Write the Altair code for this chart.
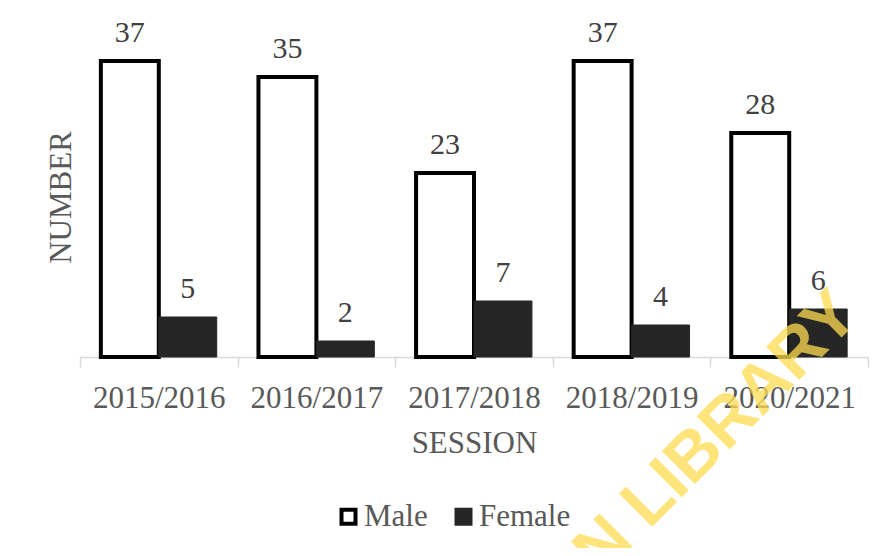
import altair as alt
import pandas as pd

sessions = ["2015/2016", "2016/2017", "2017/2018", "2018/2019", "2020/2021"]
male = [37, 35, 23, 37, 28]
female = [5, 2, 7, 4, 6]
genders = ["Male", "Female"]
watermark = ["UNIVERSITY OF IBADAN LIBRARY"]

rows = []
for s, m, f in zip(sessions, male, female):
    rows.append({"session": s, "gender": "Male", "value": m})
    rows.append({"session": s, "gender": "Female", "value": f})
df = pd.DataFrame(rows)

FONT = "Liberation Serif"
GRAY = "#595959"

x_enc = alt.X(
    "session:N",
    sort=sessions,
    scale=alt.Scale(paddingInner=0, paddingOuter=0),
    axis=alt.Axis(
        title="SESSION",
        labelAngle=0,
        tickBand="extent",
        domainColor="#d9d9d9",
        domainWidth=1.5,
        tickColor="#d9d9d9",
        tickWidth=1.5,
        tickSize=10,
        labelFont=FONT,
        labelFontSize=31,
        labelColor=GRAY,
        labelBaseline="alphabetic",
        labelPadding=40,
        titleFont=FONT,
        titleFontSize=31,
        titleFontWeight="normal",
        titleColor=GRAY,
        titleBaseline="alphabetic",
        titleY=95,
        grid=False,
    ),
)
xoff = alt.XOffset(
    "gender:N",
    sort=genders,
    scale=alt.Scale(domain=genders, paddingOuter=0.36, paddingInner=0),
)
y_enc = alt.Y(
    "value:Q",
    scale=alt.Scale(domain=[0, 40], nice=False),
    axis=alt.Axis(
        title="NUMBER",
        labels=False,
        ticks=False,
        domain=False,
        grid=False,
        titleFont=FONT,
        titleFontSize=31,
        titleFontWeight="normal",
        titleColor=GRAY,
        titleAngle=270,
        titleBaseline="alphabetic",
        titleAlign="center",
        titleX=-10,
        titleY=160,
    ),
)

leg = alt.Legend(
    title=None,
    orient="none",
    legendX=253,
    legendY=464,
    direction="horizontal",
    symbolType="square",
    symbolSize=196,
    symbolStrokeWidth=4,
    symbolOpacity=1,
    labelFont=FONT,
    labelFontSize=31,
    labelColor=GRAY,
    labelOffset=0,
    columnPadding=20,
    padding=0,
)

bars = alt.Chart(df).mark_bar().encode(
    x=x_enc,
    xOffset=xoff,
    y=y_enc,
    fill=alt.Fill(
        "gender:N",
        sort=genders,
        scale=alt.Scale(domain=genders, range=["#ffffff", "#262626"]),
        legend=leg,
    ),
    stroke=alt.Stroke(
        "gender:N",
        sort=genders,
        scale=alt.Scale(domain=genders, range=["#000000", "#262626"]),
        legend=leg,
    ),
    strokeWidth=alt.condition("datum.gender == 'Male'", alt.value(4), alt.value(1)),
)

labels = alt.Chart(df).mark_text(
    baseline="alphabetic", dy=-19, font=FONT, fontSize=30, color="#404040"
).encode(
    x=alt.X("session:N", sort=sessions),
    xOffset=alt.XOffset("gender:N", sort=genders),
    y="value:Q",
    text="value:Q",
)

wm = alt.Chart(pd.DataFrame({"t": watermark})).mark_text(
    font="Liberation Sans",
    fontWeight="bold",
    fontSize=68,
    angle=315,
    align="right",
    baseline="alphabetic",
    color="#FFDC50",
    opacity=0.75,
).encode(x=alt.value(781), y=alt.value(281), text="t:N")

chart = alt.layer(bars, labels, wm).properties(
    width=788,
    height=320,
    autosize=alt.AutoSizeParams(type="none"),
    padding={"left": 72, "top": 29, "right": 14, "bottom": 191},
).configure_view(stroke=None)

chart.save("out.html", embed_options={"renderer": "svg", "actions": False})
